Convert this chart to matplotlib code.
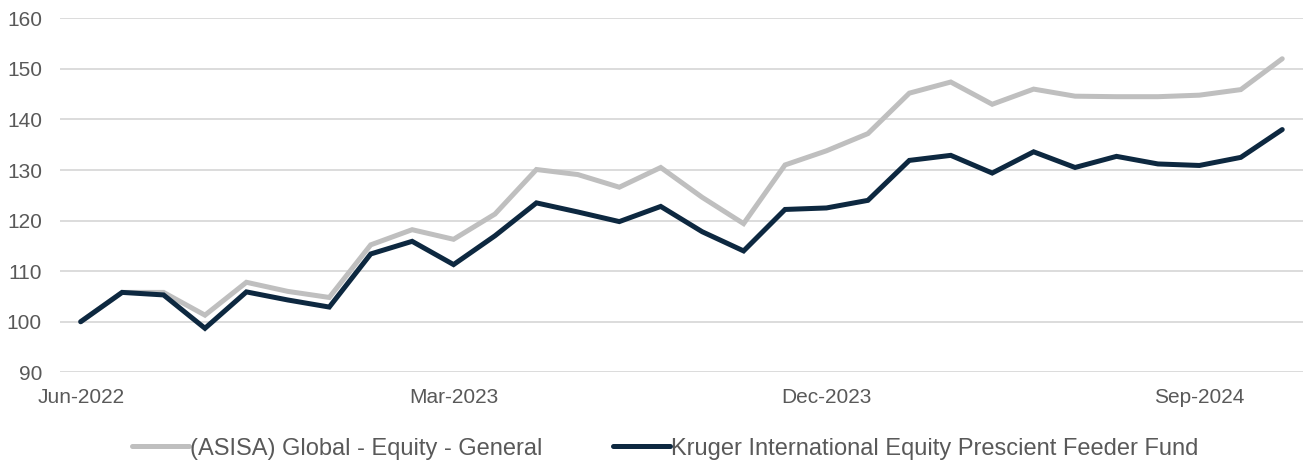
import matplotlib
matplotlib.use("Agg")
import matplotlib.pyplot as plt

# monthly index values, Jun-2022 .. Nov-2024
months = ["Jun-2022", "Jul-2022", "Aug-2022", "Sep-2022", "Oct-2022", "Nov-2022",
          "Dec-2022", "Jan-2023", "Feb-2023", "Mar-2023", "Apr-2023", "May-2023",
          "Jun-2023", "Jul-2023", "Aug-2023", "Sep-2023", "Oct-2023", "Nov-2023",
          "Dec-2023", "Jan-2024", "Feb-2024", "Mar-2024", "Apr-2024", "May-2024",
          "Jun-2024", "Jul-2024", "Aug-2024", "Sep-2024", "Oct-2024", "Nov-2024"]
asisa = [100.0, 105.8, 105.8, 101.3, 107.8, 106.0, 104.8, 115.2, 118.2, 116.3,
         121.3, 130.1, 129.1, 126.6, 130.5, 124.6, 119.4, 131.0, 133.8, 137.2,
         145.2, 147.4, 143.0, 146.0, 144.6, 144.5, 144.5, 144.8, 145.9, 152.0]
kruger = [100.0, 105.8, 105.3, 98.7, 105.9, 104.3, 102.9, 113.4, 115.9, 111.3,
          117.0, 123.5, 121.7, 119.8, 122.8, 117.8, 114.0, 122.2, 122.5, 124.0,
          131.9, 132.9, 129.4, 133.6, 130.5, 132.7, 131.2, 130.9, 132.5, 138.0]
asisa_label = "(ASISA) Global - Equity - General"
kruger_label = "Kruger International Equity Prescient Feeder Fund"

plt.rcParams['font.family'] = ['Liberation Sans', 'DejaVu Sans']

fig = plt.figure(figsize=(13.12, 4.61), dpi=100)
ax = fig.add_axes([0.0457, 0.1924, 0.9474, 0.7679])

x = list(range(len(months)))
ax.plot(x, asisa, color="#BFBFBF", lw=3.6, solid_joinstyle="miter",
        solid_capstyle="round", label=asisa_label, zorder=3)
ax.plot(x, kruger, color="#0D2840", lw=3.6, solid_joinstyle="miter",
        solid_capstyle="round", label=kruger_label, zorder=4)

ax.set_xlim(-0.5, len(months) - 0.5)
ax.set_ylim(90, 160)
ax.set_yticks(range(90, 161, 10))
ax.set_xticks(x[::9])
ax.set_xticklabels(months[::9])
ax.yaxis.grid(True, color="#D9D9D9", lw=1.3)
ax.set_axisbelow(True)
for s in ax.spines.values():
    s.set_visible(False)
ax.tick_params(length=0, labelsize=15, labelcolor="#595959")
ax.tick_params(axis="x", pad=11)
ax.tick_params(axis="y", pad=13)

fig.legend(loc="center", bbox_to_anchor=(0.507, 0.027), ncol=2, frameon=False,
           fontsize=17, handlelength=2.4, handletextpad=0.05, columnspacing=3.0,
           labelcolor="#595959")

fig.savefig("out.png", dpi=100)
